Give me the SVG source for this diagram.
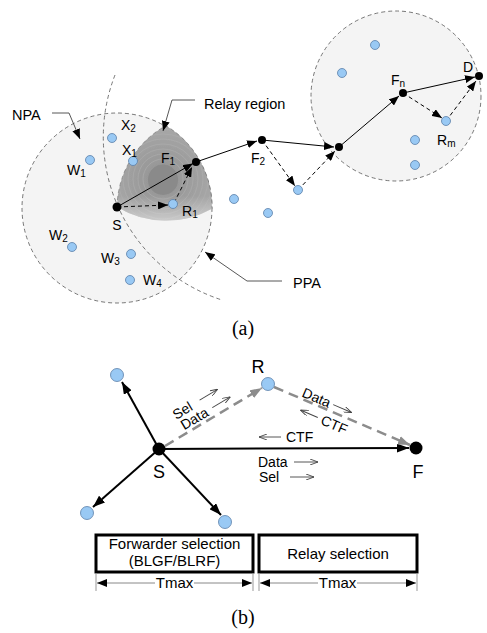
<svg xmlns="http://www.w3.org/2000/svg" width="487" height="633" viewBox="0 0 487 633">
<style>
  text { font-family: "Liberation Sans", Arial, sans-serif; fill: #000; }
  .lbl { font-size: 14px; }
  .sub { font-size: 10px; }
  .call { font-size: 14.5px; }
  .cap { font-family: "Liberation Serif", "Times New Roman", serif; font-size: 20px; }
  .area { fill: #f4f4f4; stroke: #555; stroke-width: 0.8; stroke-dasharray: 4 3; }
  .dash { fill: none; stroke: #555; stroke-width: 0.8; stroke-dasharray: 4 3; }
  .blue { fill: #99c9f4; stroke: #5a7fa8; stroke-width: 0.8; }
  .blk { fill: #000; }
  .sol { stroke: #000; stroke-width: 1; fill: none; marker-end: url(#ah); }
  .dsh { stroke: #000; stroke-width: 1; fill: none; stroke-dasharray: 4 3; marker-end: url(#ah); }
  .call-line { stroke: #444; stroke-width: 0.9; fill: none; marker-end: url(#ah); }
  .bsol { stroke: #000; stroke-width: 2; fill: none; marker-end: url(#ahb); }
  .bdsh { stroke: #8c8c8c; stroke-width: 2.5; fill: none; stroke-dasharray: 10 6; marker-end: url(#ahg); }
  .thin { stroke: #444; stroke-width: 0.9; fill: none; marker-end: url(#open); }
  .btxt { font-size: 14px; }
  .box { fill: #fff; stroke: #000; stroke-width: 3; }
  .dim { stroke: #888; stroke-width: 1; fill: none; }
  .tick { stroke: #999; stroke-width: 1; }
</style>
<defs>
  <marker id="ah" viewBox="0 0 10 8" refX="10" refY="4" markerWidth="10" markerHeight="8" orient="auto" markerUnits="userSpaceOnUse">
    <path d="M0,0 L10,4 L0,8 z" fill="#000"/>
  </marker>
  <marker id="ahb" viewBox="0 0 12 9" refX="12" refY="4.5" markerWidth="12" markerHeight="9" orient="auto" markerUnits="userSpaceOnUse">
    <path d="M0,0 L12,4.5 L0,9 z" fill="#000"/>
  </marker>
  <marker id="ahg" viewBox="0 0 12 9" refX="12" refY="4.5" markerWidth="12" markerHeight="9" orient="auto" markerUnits="userSpaceOnUse">
    <path d="M0,0 L12,4.5 L0,9 z" fill="#8c8c8c"/>
  </marker>
  <marker id="open" viewBox="0 0 8 6" refX="8" refY="3" markerWidth="8" markerHeight="6" orient="auto" markerUnits="userSpaceOnUse">
    <path d="M0,0 L8,3 L0,6" fill="none" stroke="#444" stroke-width="0.9"/>
  </marker>
  <marker id="dimh" viewBox="0 0 10 8" refX="10" refY="4" markerWidth="10" markerHeight="8" orient="auto" markerUnits="userSpaceOnUse">
    <path d="M0,0 L10,4 L0,8 z" fill="#000"/>
  </marker>
  <radialGradient id="rg" gradientUnits="userSpaceOnUse" cx="163" cy="179" r="55">
    <stop offset="0" stop-color="#8b8b8b"/>
    <stop offset="0.26" stop-color="#8d8d8d"/>
    <stop offset="0.27" stop-color="#989898"/>
    <stop offset="1" stop-color="#a9a9a9"/>
  </radialGradient>
  <linearGradient id="lg" gradientUnits="userSpaceOnUse" x1="0" y1="196" x2="0" y2="222">
    <stop offset="0" stop-color="#ffffff" stop-opacity="0"/>
    <stop offset="1" stop-color="#ffffff" stop-opacity="0.45"/>
  </linearGradient>
  <clipPath id="relayclip">
    <path d="M117,207 A95,95 0 0,1 165.9,125.6 A95,95 0 0,1 212,208.7 A95,95 0 0,1 117,207 Z"/>
  </clipPath>
</defs>

<!-- Part (a) areas -->
<g id="npa-area">
  <circle class="area" cx="117" cy="208" r="95"/>
</g>
<g id="dest-area">
  <circle class="area" cx="396" cy="96" r="85"/>
</g>
<g id="relay-region">
  <path d="M117,207 A95,95 0 0,1 165.9,125.6 A95,95 0 0,1 212,208.7 A95,95 0 0,1 117,207 Z" fill="url(#rg)"/>
  <g clip-path="url(#relayclip)" fill="none" stroke="#b0b0b0" stroke-width="0.8" opacity="0.7">
    <circle cx="163" cy="179" r="20"/>
    <circle cx="163" cy="179" r="25"/>
    <circle cx="163" cy="179" r="30"/>
    <circle cx="163" cy="179" r="35"/>
    <circle cx="163" cy="179" r="40"/>
    <circle cx="163" cy="179" r="45"/>
    <circle cx="163" cy="179" r="50"/>
  </g>
  <circle cx="163" cy="180" r="15" fill="#8a8a8a"/>
  <path d="M117,207 A95,95 0 0,1 165.9,125.6 A95,95 0 0,1 212,208.7 A95,95 0 0,1 117,207 Z" fill="url(#lg)"/>
  <path d="M117,207 A95,95 0 0,1 165.9,125.6 A95,95 0 0,1 212,208.7" fill="none" stroke="#555" stroke-width="0.8" stroke-dasharray="4 3" opacity="0.6"/>
</g>
<g id="ppa-boundary">
  <path class="dash" d="M115,75 A171,171 0 0,0 222,300"/>
</g>

<!-- callouts -->
<g id="callouts">
  <path class="call-line" d="M52,113 L69,113 L80,139"/>
  <path class="call-line" d="M195,100 L172,100 L163,131"/>
  <path class="call-line" d="M282,281 L247,281 L205,252"/>
  <text class="call" x="12" y="120">NPA</text>
  <text class="call" x="204" y="109">Relay region</text>
  <text class="call" x="293" y="288">PPA</text>
</g>

<!-- connectors (a) -->
<g id="connectors-a">
  <line class="sol" x1="117" y1="207" x2="193" y2="163.5"/>
  <line class="dsh" x1="117" y1="207" x2="168" y2="205"/>
  <line class="dsh" x1="174" y1="203" x2="192" y2="167"/>
  <line class="sol" x1="196" y1="162" x2="257" y2="141"/>
  <line class="dsh" x1="262" y1="140" x2="295" y2="186"/>
  <line class="dsh" x1="298" y1="190" x2="335" y2="151"/>
  <line class="sol" x1="262" y1="140" x2="334" y2="147"/>
  <line class="sol" x1="339" y1="147" x2="399" y2="96"/>
  <line class="dsh" x1="403" y1="93" x2="442" y2="118"/>
  <line class="dsh" x1="446" y1="121" x2="476" y2="81"/>
  <line class="sol" x1="403" y1="93" x2="475" y2="77"/>
</g>

<!-- nodes (a) -->
<g id="node-S"><circle class="blk" cx="117" cy="207" r="4.5"/><text class="lbl" x="117" y="230" text-anchor="middle">S</text></g>
<g id="node-F1"><circle class="blk" cx="196" cy="162" r="4"/><text class="lbl" x="161" y="163">F<tspan class="sub" dy="2">1</tspan></text></g>
<g id="node-R1"><circle class="blue" cx="173" cy="204" r="4.5"/><text class="lbl" x="182" y="216">R<tspan class="sub" dy="2">1</tspan></text></g>
<g id="node-X1"><circle class="blue" cx="133" cy="161" r="4.5"/><text class="lbl" x="122" y="155">X<tspan class="sub" dy="2">1</tspan></text></g>
<g id="node-X2"><circle class="blue" cx="112" cy="138" r="4.5"/><text class="lbl" x="121" y="130">X<tspan class="sub" dy="2">2</tspan></text></g>
<g id="node-W1"><circle class="blue" cx="90" cy="160" r="4.5"/><text class="lbl" x="67" y="175">W<tspan class="sub" dy="2">1</tspan></text></g>
<g id="node-W2"><circle class="blue" cx="72" cy="247" r="4.5"/><text class="lbl" x="49" y="240">W<tspan class="sub" dy="2">2</tspan></text></g>
<g id="node-W3"><circle class="blue" cx="131" cy="254" r="4.5"/><text class="lbl" x="101" y="263">W<tspan class="sub" dy="2">3</tspan></text></g>
<g id="node-W4"><circle class="blue" cx="130" cy="280" r="4.5"/><text class="lbl" x="143" y="285">W<tspan class="sub" dy="2">4</tspan></text></g>
<g id="node-F2"><circle class="blk" cx="262" cy="140" r="4"/><text class="lbl" x="251" y="163">F<tspan class="sub" dy="2">2</tspan></text></g>
<g id="node-a1"><circle class="blue" cx="234" cy="199" r="4.5"/></g>
<g id="node-a2"><circle class="blue" cx="268" cy="213" r="4.5"/></g>
<g id="node-a3"><circle class="blue" cx="298" cy="190" r="4.5"/></g>
<g id="node-N"><circle class="blk" cx="339" cy="147" r="4"/></g>
<g id="node-Fn"><circle class="blk" cx="403" cy="93" r="4"/><text class="lbl" x="391" y="85">F<tspan class="sub" dy="2">n</tspan></text></g>
<g id="node-Rm"><circle class="blue" cx="446" cy="121" r="4.5"/><text class="lbl" x="437" y="145">R<tspan class="sub" dy="2">m</tspan></text></g>
<g id="node-D"><circle class="blk" cx="479" cy="76" r="4"/><text class="lbl" x="463" y="72">D</text></g>
<g id="node-b1"><circle class="blue" cx="375" cy="45" r="4.5"/></g>
<g id="node-b2"><circle class="blue" cx="342" cy="73" r="4.5"/></g>
<g id="node-b3"><circle class="blue" cx="415" cy="140" r="4.5"/></g>
<g id="node-b4"><circle class="blue" cx="415" cy="165" r="4.5"/></g>

<text class="cap" x="243" y="335" text-anchor="middle">(a)</text>

<!-- Part (b) connectors -->
<g id="connectors-b">
  <line class="bsol" x1="159" y1="449" x2="122" y2="382"/>
  <line class="bsol" x1="159" y1="449" x2="93" y2="507"/>
  <line class="bsol" x1="159" y1="449" x2="221" y2="515"/>
  <line class="bsol" x1="159" y1="449" x2="409" y2="448"/>
  <line class="bdsh" x1="165" y1="446" x2="262" y2="388"/>
  <line class="bdsh" x1="274" y1="387" x2="410" y2="445"/>
</g>

<g id="labels-b">
  <g transform="translate(159,449) rotate(-31)">
    <text class="btxt" x="40" y="-16" text-anchor="middle">Sel</text>
    <text class="btxt" x="46" y="-3" text-anchor="middle">Data</text>
    <line class="thin" x1="60" y1="-21" x2="81" y2="-21"/>
    <line class="thin" x1="67" y1="-8" x2="88" y2="-8"/>
  </g>
  <g transform="translate(268,384) rotate(23.4)">
    <text class="btxt" x="50" y="-2" text-anchor="middle">Data</text>
    <line class="thin" x1="68" y1="-7" x2="88" y2="-7"/>
    <text class="btxt" x="77" y="16" text-anchor="middle">CTF</text>
    <line class="thin" x1="59" y1="11" x2="40" y2="11"/>
  </g>
  <line class="thin" x1="281" y1="437" x2="259" y2="437"/>
  <text class="btxt" x="286" y="442">CTF</text>
  <text class="btxt" x="258" y="467">Data</text>
  <line class="thin" x1="294" y1="462" x2="318" y2="462"/>
  <text class="btxt" x="259" y="482">Sel</text>
  <line class="thin" x1="290" y1="477" x2="314" y2="477"/>
</g>

<!-- nodes (b) -->
<g id="b-node-S"><circle class="blk" cx="159" cy="449" r="6.5"/><text x="159" y="478" font-size="18" text-anchor="middle">S</text></g>
<g id="b-node-R"><circle class="blue" cx="268" cy="384" r="6.5"/><text x="258" y="373" font-size="18" text-anchor="middle">R</text></g>
<g id="b-node-F"><circle class="blk" cx="416" cy="448" r="6.5"/><text x="418" y="478" font-size="18" text-anchor="middle">F</text></g>
<g id="b-node-n1"><circle class="blue" cx="117" cy="375" r="6.5"/></g>
<g id="b-node-n2"><circle class="blue" cx="87" cy="513" r="6.5"/></g>
<g id="b-node-n3"><circle class="blue" cx="225" cy="522" r="6.5"/></g>

<!-- boxes -->
<g id="box-forwarder">
  <rect class="box" x="96" y="535" width="157" height="37"/>
  <text x="174.5" y="549" font-size="15" text-anchor="middle">Forwarder selection</text>
  <text x="174.5" y="566" font-size="15" text-anchor="middle">(BLGF/BLRF)</text>
</g>
<g id="box-relay">
  <rect class="box" x="259" y="535" width="158" height="37"/>
  <text x="338" y="558.5" font-size="15" text-anchor="middle">Relay selection</text>
</g>
<g id="dims">
  <line class="tick" x1="96" y1="573" x2="96" y2="591"/>
  <line class="tick" x1="253" y1="573" x2="253" y2="591"/>
  <line class="tick" x1="259" y1="573" x2="259" y2="591"/>
  <line class="tick" x1="417" y1="573" x2="417" y2="591"/>
  <line class="dim" x1="155" y1="583" x2="97" y2="583" marker-end="url(#dimh)"/>
  <line class="dim" x1="194" y1="583" x2="252" y2="583" marker-end="url(#dimh)"/>
  <line class="dim" x1="318" y1="583" x2="260" y2="583" marker-end="url(#dimh)"/>
  <line class="dim" x1="357" y1="583" x2="416" y2="583" marker-end="url(#dimh)"/>
  <text x="174.5" y="588" font-size="15" text-anchor="middle">Tmax</text>
  <text x="337.5" y="588" font-size="15" text-anchor="middle">Tmax</text>
</g>

<text class="cap" x="243" y="624" text-anchor="middle">(b)</text>
</svg>
